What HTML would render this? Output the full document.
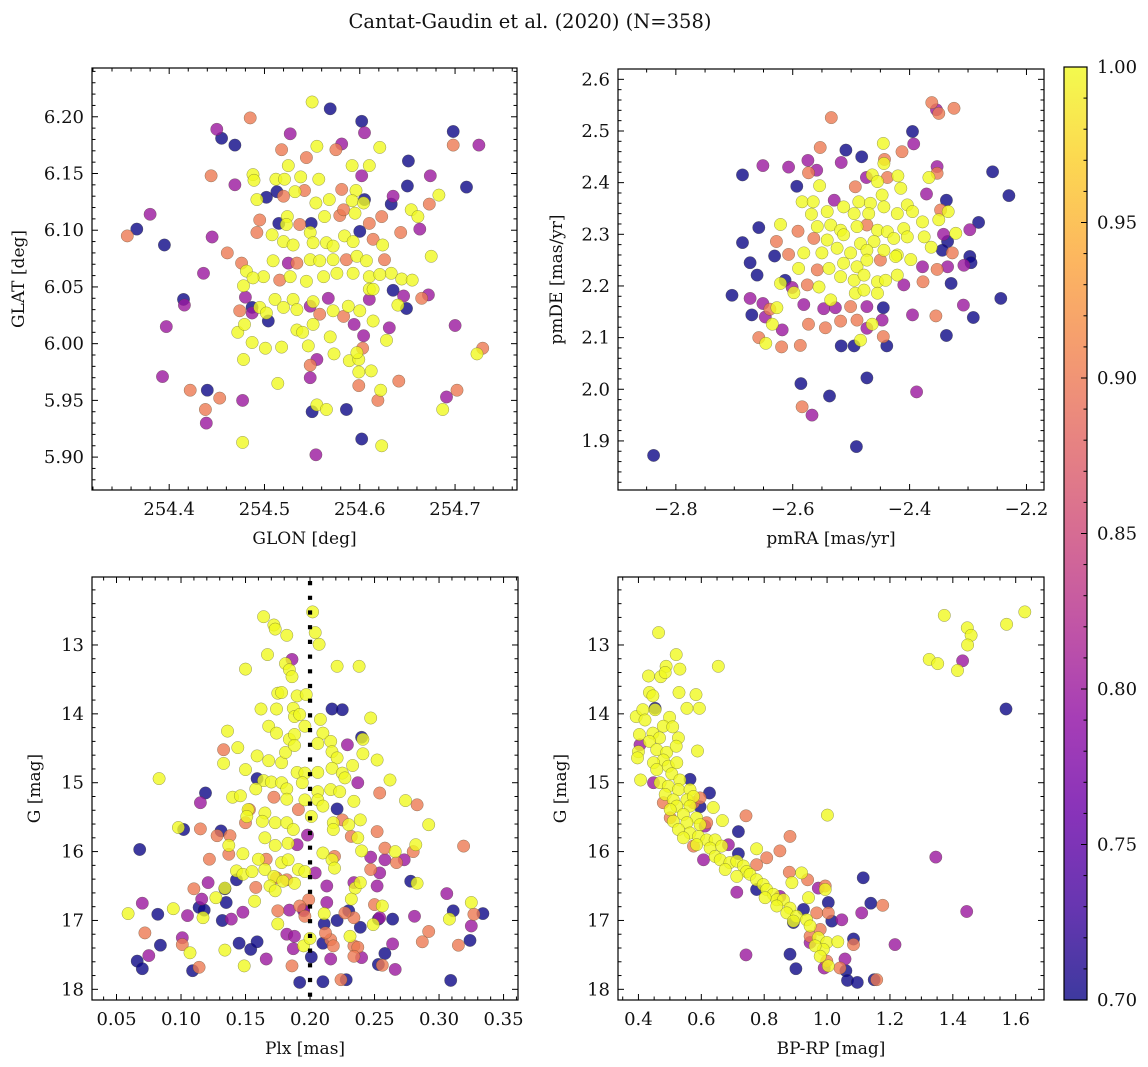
<!DOCTYPE html>
<html><head><meta charset="utf-8">
<style>
html,body{margin:0;padding:0;background:#fff;}
svg{display:block;font-family:"DejaVu Serif","Liberation Serif",serif;}
</style></head>
<body>
<svg id="fig" width="1148" height="1067" viewBox="0 0 1148 1067" xmlns="http://www.w3.org/2000/svg">
<rect width="1148" height="1067" fill="#fff"/>
<text x="530" y="28" font-size="19.5" text-anchor="middle" fill="#111">Cantat-Gaudin et al. (2020) (N=358)</text>
</svg>
<script>
// ---- data: membership probability classes ----
const classProb = [0.70, 0.80, 0.90, 1.00];

// Panel 1: GLON / GLAT [deg], grouped by probability class
const p1Blue = [[254.569,6.207],[254.602,6.196],[254.698,6.187],[254.455,6.181],[254.469,6.175],[254.651,6.161],[254.650,6.139],[254.712,6.138],[254.513,6.134],[254.502,6.129],[254.605,6.127],[254.633,6.123],[254.366,6.101],[254.395,6.087],[254.515,6.106],[254.549,6.106],[254.600,6.099],[254.635,6.047],[254.649,6.031],[254.415,6.039],[254.487,6.032],[254.504,6.020],[254.440,5.959],[254.550,5.940],[254.586,5.942],[254.602,5.916]];
const p1Purple = [[254.450,6.189],[254.527,6.185],[254.605,6.186],[254.581,6.176],[254.725,6.175],[254.469,6.140],[254.602,6.148],[254.674,6.148],[254.635,6.130],[254.380,6.114],[254.445,6.094],[254.436,6.062],[254.663,6.101],[254.525,6.071],[254.646,6.042],[254.672,6.043],[254.480,6.041],[254.416,6.034],[254.487,6.027],[254.548,6.033],[254.567,6.040],[254.610,6.039],[254.397,6.015],[254.594,6.017],[254.604,6.007],[254.631,6.014],[254.700,6.016],[254.555,5.986],[254.548,5.970],[254.393,5.971],[254.477,5.950],[254.439,5.930],[254.691,5.953],[254.554,5.902]];
const p1Salmon = [[254.485,6.199],[254.698,6.175],[254.518,6.171],[254.575,6.171],[254.544,6.164],[254.444,6.148],[254.520,6.130],[254.542,6.135],[254.581,6.136],[254.673,6.123],[254.356,6.095],[254.461,6.080],[254.495,6.109],[254.537,6.105],[254.579,6.113],[254.583,6.118],[254.610,6.106],[254.623,6.112],[254.643,6.098],[254.492,6.098],[254.614,6.092],[254.476,6.071],[254.534,6.071],[254.586,6.074],[254.626,6.074],[254.516,6.056],[254.665,6.040],[254.474,6.029],[254.558,6.026],[254.583,6.024],[254.603,5.996],[254.548,5.981],[254.729,5.996],[254.599,5.963],[254.641,5.967],[254.422,5.959],[254.453,5.952],[254.438,5.942],[254.619,5.950],[254.702,5.959]];
const p1Yellow = [[254.550,6.213],[254.555,6.174],[254.621,6.173],[254.525,6.157],[254.592,6.157],[254.610,6.157],[254.488,6.149],[254.489,6.144],[254.512,6.145],[254.521,6.145],[254.538,6.147],[254.557,6.145],[254.492,6.127],[254.532,6.134],[254.596,6.135],[254.568,6.127],[254.554,6.124],[254.592,6.126],[254.604,6.124],[254.683,6.131],[254.654,6.118],[254.661,6.112],[254.524,6.112],[254.523,6.105],[254.563,6.112],[254.595,6.115],[254.508,6.096],[254.520,6.090],[254.530,6.087],[254.548,6.098],[254.551,6.089],[254.565,6.089],[254.572,6.086],[254.584,6.095],[254.593,6.090],[254.624,6.087],[254.675,6.077],[254.481,6.064],[254.499,6.059],[254.509,6.073],[254.548,6.074],[254.558,6.073],[254.572,6.074],[254.597,6.077],[254.607,6.073],[254.633,6.062],[254.644,6.057],[254.655,6.056],[254.478,6.051],[254.488,6.058],[254.527,6.059],[254.544,6.055],[254.562,6.059],[254.576,6.062],[254.593,6.062],[254.610,6.059],[254.621,6.061],[254.610,6.048],[254.495,6.032],[254.502,6.027],[254.511,6.039],[254.520,6.032],[254.530,6.039],[254.534,6.030],[254.551,6.037],[254.572,6.029],[254.588,6.033],[254.600,6.029],[254.614,6.048],[254.640,6.034],[254.472,6.010],[254.479,6.017],[254.487,6.001],[254.501,5.996],[254.518,5.997],[254.534,6.012],[254.540,6.010],[254.551,6.017],[254.569,6.006],[254.614,6.020],[254.628,6.003],[254.546,5.998],[254.478,5.986],[254.573,5.991],[254.589,5.985],[254.599,5.986],[254.597,5.992],[254.599,5.975],[254.612,5.976],[254.723,5.991],[254.514,5.965],[254.622,5.959],[254.555,5.946],[254.565,5.942],[254.687,5.942],[254.477,5.913],[254.623,5.910]];

// Panel 2: pmRA / pmDE [mas/yr]
const p2Blue = [[-2.838,1.872],[-2.491,1.889],[-2.586,2.011],[-2.537,1.987],[-2.473,2.022],[-2.395,2.499],[-2.509,2.463],[-2.482,2.450],[-2.686,2.415],[-2.258,2.421],[-2.230,2.375],[-2.593,2.393],[-2.337,2.366],[-2.282,2.323],[-2.658,2.313],[-2.686,2.284],[-2.335,2.286],[-2.344,2.269],[-2.631,2.258],[-2.297,2.257],[-2.295,2.245],[-2.673,2.245],[-2.661,2.221],[-2.613,2.211],[-2.329,2.205],[-2.704,2.182],[-2.445,2.158],[-2.244,2.176],[-2.670,2.144],[-2.291,2.139],[-2.517,2.084],[-2.495,2.084],[-2.439,2.084],[-2.337,2.104]];
const p2Purple = [[-2.388,1.995],[-2.567,1.950],[-2.354,2.541],[-2.393,2.475],[-2.574,2.443],[-2.517,2.439],[-2.607,2.430],[-2.651,2.433],[-2.559,2.424],[-2.353,2.431],[-2.474,2.410],[-2.371,2.378],[-2.529,2.366],[-2.297,2.309],[-2.342,2.300],[-2.378,2.237],[-2.335,2.237],[-2.307,2.240],[-2.601,2.197],[-2.410,2.202],[-2.673,2.176],[-2.651,2.166],[-2.581,2.164],[-2.547,2.156],[-2.527,2.158],[-2.473,2.160],[-2.308,2.163],[-2.647,2.140],[-2.473,2.118],[-2.447,2.134],[-2.395,2.144],[-2.618,2.115]];
const p2Salmon = [[-2.584,1.966],[-2.362,2.555],[-2.350,2.534],[-2.324,2.544],[-2.534,2.526],[-2.553,2.468],[-2.413,2.460],[-2.573,2.419],[-2.353,2.418],[-2.443,2.445],[-2.438,2.410],[-2.493,2.392],[-2.347,2.347],[-2.591,2.306],[-2.473,2.318],[-2.628,2.286],[-2.564,2.292],[-2.607,2.261],[-2.327,2.264],[-2.558,2.231],[-2.450,2.250],[-2.353,2.232],[-2.575,2.202],[-2.377,2.208],[-2.639,2.155],[-2.501,2.160],[-2.573,2.126],[-2.544,2.119],[-2.518,2.132],[-2.490,2.134],[-2.355,2.142],[-2.658,2.100],[-2.619,2.082],[-2.587,2.085],[-2.445,2.102]];
const p2Yellow = [[-2.445,2.476],[-2.367,2.410],[-2.444,2.437],[-2.464,2.415],[-2.420,2.413],[-2.554,2.394],[-2.455,2.402],[-2.415,2.389],[-2.584,2.363],[-2.565,2.363],[-2.513,2.353],[-2.487,2.363],[-2.467,2.360],[-2.447,2.376],[-2.444,2.353],[-2.421,2.340],[-2.404,2.357],[-2.395,2.344],[-2.334,2.344],[-2.568,2.339],[-2.541,2.344],[-2.495,2.340],[-2.470,2.340],[-2.378,2.324],[-2.350,2.328],[-2.621,2.319],[-2.558,2.315],[-2.535,2.318],[-2.518,2.308],[-2.490,2.315],[-2.455,2.308],[-2.438,2.305],[-2.410,2.311],[-2.321,2.302],[-2.541,2.289],[-2.513,2.299],[-2.484,2.282],[-2.461,2.286],[-2.427,2.292],[-2.404,2.295],[-2.375,2.295],[-2.363,2.275],[-2.581,2.264],[-2.550,2.264],[-2.524,2.273],[-2.501,2.264],[-2.473,2.269],[-2.444,2.269],[-2.421,2.260],[-2.590,2.234],[-2.538,2.234],[-2.513,2.244],[-2.490,2.237],[-2.473,2.250],[-2.424,2.257],[-2.398,2.251],[-2.621,2.205],[-2.555,2.198],[-2.518,2.218],[-2.495,2.211],[-2.478,2.221],[-2.455,2.208],[-2.441,2.211],[-2.421,2.221],[-2.627,2.158],[-2.598,2.187],[-2.535,2.173],[-2.493,2.186],[-2.478,2.192],[-2.455,2.186],[-2.635,2.126],[-2.464,2.126],[-2.646,2.089],[-2.484,2.095]];

// Panel 3: Plx [mas] / G [mag]
const p3Blue = [[0.217,13.93],[0.225,13.94],[0.240,14.34],[0.159,14.94],[0.119,15.15],[0.221,15.38],[0.131,15.70],[0.102,15.68],[0.068,15.97],[0.278,16.43],[0.134,16.54],[0.143,16.41],[0.135,16.74],[0.114,16.81],[0.118,16.85],[0.082,16.91],[0.132,17.00],[0.195,16.84],[0.211,17.05],[0.221,17.00],[0.230,16.86],[0.239,17.10],[0.264,16.98],[0.311,16.86],[0.334,16.90],[0.324,17.29],[0.145,17.33],[0.154,17.42],[0.159,17.31],[0.084,17.36],[0.066,17.59],[0.070,17.70],[0.109,17.73],[0.201,17.53],[0.210,17.33],[0.258,17.48],[0.253,17.64],[0.192,17.90],[0.210,17.89],[0.228,17.86],[0.309,17.87],[0.253,16.98]];
const p3Purple = [[0.186,13.21],[0.229,14.45],[0.237,15.00],[0.115,15.29],[0.198,15.76],[0.190,15.90],[0.247,16.08],[0.258,16.12],[0.254,16.31],[0.273,16.12],[0.121,16.45],[0.213,16.50],[0.234,16.45],[0.252,16.50],[0.306,16.61],[0.070,16.75],[0.116,16.69],[0.105,16.93],[0.139,16.98],[0.148,16.88],[0.184,16.85],[0.195,16.86],[0.254,16.96],[0.281,16.94],[0.325,17.08],[0.182,17.20],[0.188,17.23],[0.101,17.25],[0.075,17.51],[0.166,17.56],[0.187,17.41],[0.216,17.56],[0.240,17.54],[0.264,17.34],[0.266,17.71],[0.204,16.31],[0.213,16.74]];
const p3Salmon = [[0.133,14.52],[0.254,15.15],[0.283,15.32],[0.172,15.21],[0.153,15.39],[0.150,15.58],[0.115,15.67],[0.128,15.77],[0.138,15.77],[0.137,16.04],[0.122,16.11],[0.166,16.11],[0.191,15.39],[0.225,15.54],[0.232,15.78],[0.252,15.71],[0.258,15.95],[0.280,16.00],[0.267,16.16],[0.247,16.26],[0.219,16.07],[0.110,16.54],[0.158,16.52],[0.174,16.38],[0.182,16.41],[0.199,16.70],[0.192,16.79],[0.175,16.86],[0.196,16.94],[0.250,16.77],[0.319,15.92],[0.327,16.91],[0.072,17.18],[0.101,17.35],[0.114,17.68],[0.186,17.66],[0.216,17.28],[0.212,17.18],[0.218,17.37],[0.234,17.37],[0.237,17.39],[0.292,17.16],[0.287,17.31],[0.315,17.36],[0.256,17.65],[0.224,17.86],[0.234,17.52],[0.234,16.96],[0.227,16.89]];
const p3Yellow = [[0.164,12.59],[0.172,12.71],[0.173,12.77],[0.182,12.86],[0.202,12.52],[0.204,12.82],[0.207,12.99],[0.167,13.14],[0.150,13.35],[0.181,13.27],[0.184,13.36],[0.186,13.46],[0.221,13.31],[0.238,13.31],[0.175,13.70],[0.178,13.69],[0.190,13.74],[0.197,13.72],[0.162,13.93],[0.174,13.93],[0.187,13.92],[0.188,14.04],[0.192,14.01],[0.208,14.08],[0.247,14.06],[0.136,14.25],[0.168,14.18],[0.174,14.28],[0.184,14.37],[0.188,14.30],[0.196,14.18],[0.210,14.28],[0.216,14.40],[0.241,14.37],[0.144,14.49],[0.159,14.61],[0.168,14.68],[0.178,14.71],[0.181,14.56],[0.188,14.46],[0.206,14.43],[0.217,14.55],[0.221,14.64],[0.241,14.58],[0.252,14.67],[0.133,14.72],[0.150,14.81],[0.190,14.85],[0.196,14.86],[0.206,14.85],[0.217,14.79],[0.225,14.86],[0.233,14.75],[0.227,14.93],[0.083,14.94],[0.164,14.97],[0.170,14.99],[0.178,15.00],[0.182,15.09],[0.194,15.00],[0.206,15.13],[0.216,15.10],[0.223,15.13],[0.262,14.96],[0.140,15.21],[0.146,15.19],[0.158,15.09],[0.182,15.24],[0.196,15.25],[0.206,15.25],[0.210,15.34],[0.234,15.27],[0.274,15.26],[0.152,15.39],[0.151,15.49],[0.165,15.44],[0.163,15.56],[0.173,15.58],[0.182,15.58],[0.187,15.68],[0.201,15.49],[0.218,15.58],[0.218,15.68],[0.230,15.61],[0.239,15.54],[0.292,15.61],[0.137,15.91],[0.148,16.03],[0.165,15.80],[0.173,15.91],[0.183,15.88],[0.210,16.02],[0.217,16.12],[0.219,16.24],[0.237,15.80],[0.240,15.99],[0.266,16.00],[0.282,15.90],[0.098,15.65],[0.160,16.11],[0.178,16.16],[0.183,16.12],[0.191,16.26],[0.196,16.29],[0.143,16.28],[0.148,16.33],[0.155,16.29],[0.165,16.26],[0.172,16.36],[0.179,16.43],[0.169,16.50],[0.173,16.57],[0.134,16.53],[0.127,16.67],[0.157,16.72],[0.188,16.46],[0.235,16.53],[0.239,16.45],[0.283,16.46],[0.232,16.69],[0.059,16.90],[0.094,16.83],[0.117,16.96],[0.175,17.05],[0.211,16.90],[0.249,17.06],[0.256,16.79],[0.308,16.98],[0.325,16.74],[0.231,17.23],[0.195,17.37],[0.200,17.26],[0.107,17.47],[0.134,17.43],[0.149,17.66]];
const p3Threshold = [0.20]; // vertical dotted reference line (Plx)

// Panel 4: BP-RP [mag] / G [mag]
const p4Blue = [[0.453,13.92],[0.564,14.95],[0.626,15.15],[0.596,15.35],[0.718,15.71],[0.718,16.03],[0.776,16.55],[0.925,16.84],[1.004,16.74],[1.115,16.38],[1.139,16.75],[1.015,17.01],[0.893,17.03],[1.084,17.27],[0.882,17.49],[0.901,17.70],[1.060,17.73],[1.065,17.87],[1.096,17.90],[1.150,17.86],[1.569,13.93]];
const p4Purple = [[0.405,14.45],[0.448,15.00],[0.612,15.63],[0.607,16.12],[0.686,15.90],[0.713,16.59],[0.972,16.53],[1.110,16.89],[1.047,16.99],[1.057,17.56],[0.991,17.69],[1.216,17.35],[0.742,17.50],[1.346,16.08],[1.444,16.87],[1.431,13.23],[0.946,17.32],[0.850,16.65]];
const p4Salmon = [[0.479,15.29],[0.501,15.51],[0.575,15.29],[0.596,15.22],[0.617,15.58],[0.575,15.92],[0.808,16.09],[0.850,15.99],[0.776,16.19],[0.882,15.78],[0.742,15.48],[0.880,16.30],[0.938,16.41],[0.994,16.50],[0.967,16.89],[1.004,16.89],[1.177,16.78],[1.084,17.35],[1.041,17.69],[1.158,17.86],[0.946,17.23],[0.999,17.59],[0.978,17.13]];
const p4Yellow = [[0.464,12.82],[0.520,13.14],[0.488,13.31],[0.532,13.35],[0.471,13.46],[0.432,13.45],[0.485,13.40],[0.654,13.31],[0.435,13.69],[0.446,13.74],[0.529,13.69],[0.583,13.72],[0.554,13.92],[0.594,13.92],[0.393,14.04],[0.414,13.94],[0.453,13.94],[0.421,14.09],[0.499,14.05],[0.479,14.18],[0.509,14.19],[0.446,14.28],[0.403,14.30],[0.527,14.35],[0.467,14.35],[0.435,14.40],[0.458,14.52],[0.400,14.55],[0.397,14.64],[0.490,14.56],[0.520,14.47],[0.588,14.54],[0.479,14.67],[0.448,14.71],[0.495,14.76],[0.522,14.71],[0.458,14.81],[0.506,14.87],[0.532,14.96],[0.407,14.96],[0.469,15.00],[0.495,15.05],[0.527,15.10],[0.564,15.10],[0.485,15.17],[0.511,15.25],[0.554,15.25],[0.575,15.20],[0.522,15.34],[0.564,15.34],[0.638,15.36],[0.501,15.39],[0.543,15.46],[0.585,15.51],[0.667,15.55],[0.511,15.56],[0.554,15.58],[0.596,15.61],[0.527,15.68],[0.564,15.73],[0.591,15.78],[0.543,15.80],[0.617,15.83],[0.644,15.83],[0.585,15.90],[0.628,15.95],[0.665,15.92],[0.644,16.07],[0.660,16.12],[0.776,15.96],[0.691,16.16],[0.676,16.26],[0.713,16.14],[0.734,16.21],[0.744,16.29],[0.713,16.36],[0.755,16.33],[0.776,16.41],[0.797,16.48],[0.808,16.55],[0.829,16.62],[0.840,16.70],[0.861,16.70],[0.803,16.67],[0.840,16.79],[0.882,16.82],[0.872,16.89],[0.903,16.94],[0.893,17.01],[0.935,16.99],[0.946,17.08],[0.972,17.25],[0.999,17.32],[0.988,17.42],[0.962,17.37],[1.034,17.31],[1.004,17.66],[0.978,17.52],[0.919,16.31],[0.888,16.45],[0.994,16.55],[0.941,16.67],[1.001,15.47],[1.373,12.57],[1.446,12.75],[1.458,12.86],[1.447,13.00],[1.325,13.21],[1.352,13.27],[1.415,13.37],[1.629,12.52],[1.571,12.70]];

// ---- tick labels ----
const p1XTicks = [254.4, 254.5, 254.6, 254.7];
const p1XLabels = ["254.4", "254.5", "254.6", "254.7"];
const p1YTicks = [5.90, 5.95, 6.00, 6.05, 6.10, 6.15, 6.20];
const p1YLabels = ["5.90", "5.95", "6.00", "6.05", "6.10", "6.15", "6.20"];
const p2XTicks = [-2.8, -2.6, -2.4, -2.2];
const p2XLabels = ["\u22122.8", "\u22122.6", "\u22122.4", "\u22122.2"];
const p2YTicks = [1.9, 2.0, 2.1, 2.2, 2.3, 2.4, 2.5, 2.6];
const p2YLabels = ["1.9", "2.0", "2.1", "2.2", "2.3", "2.4", "2.5", "2.6"];
const p3XTicks = [0.05, 0.10, 0.15, 0.20, 0.25, 0.30, 0.35];
const p3XLabels = ["0.05", "0.10", "0.15", "0.20", "0.25", "0.30", "0.35"];
const gTicks = [13, 14, 15, 16, 17, 18];
const gLabels = ["13", "14", "15", "16", "17", "18"];
const p4XTicks = [0.4, 0.6, 0.8, 1.0, 1.2, 1.4, 1.6];
const p4XLabels = ["0.4", "0.6", "0.8", "1.0", "1.2", "1.4", "1.6"];
const cbTicks = [0.70, 0.75, 0.80, 0.85, 0.90, 0.95, 1.00];
const cbLabels = ["0.70", "0.75", "0.80", "0.85", "0.90", "0.95", "1.00"];

// ---- rendering ----
const NS = "http://www.w3.org/2000/svg";
const svg = document.getElementById("fig");
function mk(tag, attrs, parent) {
  const e = document.createElementNS(NS, tag);
  for (const k in attrs) e.setAttribute(k, attrs[k]);
  (parent || svg).appendChild(e);
  return e;
}
const plasmaStops = ["#0d0887","#41049d","#6a00a8","#8f0da4","#b12a90","#cc4778","#e16462","#f2844b","#fca636","#fcce25","#f0f921"];
function hex2rgb(h){return [parseInt(h.slice(1,3),16),parseInt(h.slice(3,5),16),parseInt(h.slice(5,7),16)];}
function plasma(t){
  t = Math.max(0, Math.min(1, t));
  const f = t*10, i = Math.min(9, Math.floor(f)), r = f - i;
  const a = hex2rgb(plasmaStops[i]), b = hex2rgb(plasmaStops[i+1]);
  return "rgb(" + a.map((v,k)=>Math.round(v+(b[k]-v)*r)).join(",") + ")";
}
function probColor(p){ return plasma((p - 0.70) / 0.30); }

function makeScale(d0, d1, r0, r1){ return v => r0 + (v - d0) / (d1 - d0) * (r1 - r0); }

function panel(cfg){
  const g = mk("g", {});
  
  
  const sx = makeScale(cfg.xd[0], cfg.xd[1], cfg.L, cfg.R);
  const sy = makeScale(cfg.yd[0], cfg.yd[1], cfg.B, cfg.T);
  // points, low prob first
  const clip = "clip-" + cfg.name;
  const cp = mk("clipPath", {id: clip}, g);
  mk("rect", {x: cfg.L, y: cfg.T, width: cfg.R - cfg.L, height: cfg.B - cfg.T}, cp);
  const pg = mk("g", {"clip-path": "url(#" + clip + ")"}, g);
  
  
  cfg.groups.forEach((grp, gi) => {
    const col = probColor(classProb[gi]);
    grp.forEach(pt => {
      const c = mk("circle", {cx: sx(pt[0]).toFixed(1), cy: sy(pt[1]).toFixed(1), r: 6.2,
        fill: col, "fill-opacity": 0.8, stroke: "rgba(70,70,40,0.55)", "stroke-width": 0.5}, pg);
      
      
    });
  });
  if (cfg.vline) {
    cfg.vline.forEach(v => {
      const ln = mk("line", {x1: sx(v), x2: sx(v), y1: cfg.T + 4, y2: cfg.B, stroke: "#000", "stroke-width": 4.2, "stroke-dasharray": "4.2 10.5"}, g);
      
      
    });
  }
  // frame
  const fr = mk("rect", {x: cfg.L, y: cfg.T, width: cfg.R - cfg.L, height: cfg.B - cfg.T, fill: "none", stroke: "#000", "stroke-width": 1.2}, g);
  
  
  // ticks
  const tg = mk("g", {stroke: "#000", "stroke-width": 1}, g);
  const eps = 1e-9;
  const xmin = Math.min(cfg.xd[0], cfg.xd[1]), xmax = Math.max(cfg.xd[0], cfg.xd[1]);
  for (let k = Math.ceil(xmin / cfg.xminor - eps); k * cfg.xminor <= xmax + eps; k++) {
    const v = k * cfg.xminor, x = sx(v);
    const major = Math.abs(v / cfg.xmajor - Math.round(v / cfg.xmajor)) < 1e-6;
    const len = major ? 6 : 3.5;
    mk("line", {x1: x, x2: x, y1: cfg.B, y2: cfg.B - len}, tg);
    mk("line", {x1: x, x2: x, y1: cfg.T, y2: cfg.T + len}, tg);
  }
  const ymin = Math.min(cfg.yd[0], cfg.yd[1]), ymax = Math.max(cfg.yd[0], cfg.yd[1]);
  for (let k = Math.ceil(ymin / cfg.yminor - eps); k * cfg.yminor <= ymax + eps; k++) {
    const v = k * cfg.yminor, y = sy(v);
    const major = Math.abs(v / cfg.ymajor - Math.round(v / cfg.ymajor)) < 1e-6;
    const len = major ? 6 : 3.5;
    mk("line", {x1: cfg.L, x2: cfg.L + len, y1: y, y2: y}, tg);
    mk("line", {x1: cfg.R, x2: cfg.R - len, y1: y, y2: y}, tg);
  }
  // tick labels
  cfg.xt.forEach((v, i) => {
    const t = mk("text", {x: sx(v), y: cfg.B + 25, "font-size": 18, "text-anchor": "middle", fill: "#111"}, g);
    t.textContent = cfg.xl[i];
    
    
  });
  cfg.yt.forEach((v, i) => {
    const t = mk("text", {x: cfg.L - 8, y: sy(v) + 6, "font-size": 18, "text-anchor": "end", fill: "#111"}, g);
    t.textContent = cfg.yl[i];
    
    
  });
  const xt = mk("text", {x: (cfg.L + cfg.R) / 2, y: cfg.B + 54, "font-size": 17, "text-anchor": "middle", fill: "#111"}, g);
  xt.textContent = cfg.xtitle;
  
  
  const cy = (cfg.T + cfg.B) / 2;
  const yt = mk("text", {x: cfg.ytx, y: cy, "font-size": 17, "text-anchor": "middle", fill: "#111", transform: "rotate(-90 " + cfg.ytx + " " + cy + ")"}, g);
  yt.textContent = cfg.ytitle;
  
  
}

panel({name: "panel-glon-glat", L: 92, R: 517, T: 68, B: 490, xd: [254.319, 254.765], yd: [5.871, 6.243],
  xmajor: 0.1, xminor: 0.02, ymajor: 0.05, yminor: 0.01, xt: p1XTicks, xl: p1XLabels, yt: p1YTicks, yl: p1YLabels,
  xtitle: "GLON [deg]", ytitle: "GLAT [deg]", ytx: 24, groups: [p1Blue, p1Purple, p1Salmon, p1Yellow]});
panel({name: "panel-proper-motion", L: 618, R: 1044, T: 69, B: 490, xd: [-2.899, -2.170], yd: [1.805, 2.620],
  xmajor: 0.2, xminor: 0.05, ymajor: 0.1, yminor: 0.02, xt: p2XTicks, xl: p2XLabels, yt: p2YTicks, yl: p2YLabels,
  xtitle: "pmRA [mas/yr]", ytitle: "pmDE [mas/yr]", ytx: 562, groups: [p2Blue, p2Purple, p2Salmon, p2Yellow]});
panel({name: "panel-plx-g", L: 92, R: 518, T: 577, B: 1000, xd: [0.031, 0.3612], yd: [18.155, 12.013],
  xmajor: 0.05, xminor: 0.01, ymajor: 1, yminor: 0.2, xt: p3XTicks, xl: p3XLabels, yt: gTicks, yl: gLabels,
  xtitle: "Plx [mas]", ytitle: "G [mag]", ytx: 40, groups: [p3Blue, p3Purple, p3Salmon, p3Yellow], vline: p3Threshold});
panel({name: "panel-cmd", L: 618, R: 1044, T: 577, B: 1000, xd: [0.335, 1.690], yd: [18.155, 12.013],
  xmajor: 0.2, xminor: 0.05, ymajor: 1, yminor: 0.2, xt: p4XTicks, xl: p4XLabels, yt: gTicks, yl: gLabels,
  xtitle: "BP-RP [mag]", ytitle: "G [mag]", ytx: 566, groups: [p4Blue, p4Purple, p4Salmon, p4Yellow]});

// ---- colorbar ----
(function(){
  const L = 1064, R = 1087, T = 67, B = 1000;
  const g = mk("g", {});
  
  
  const defs = mk("defs", {}, g);
  const lg = mk("linearGradient", {id: "cbgrad", x1: 0, y1: 1, x2: 0, y2: 0}, defs);
  for (let i = 0; i <= 20; i++) mk("stop", {offset: i / 20, "stop-color": plasma(i / 20), "stop-opacity": 0.8}, lg);
  mk("rect", {x: L, y: T, width: R - L, height: B - T, fill: "url(#cbgrad)", stroke: "#000", "stroke-width": 1.2}, g);
  const sy = makeScale(0.70, 1.00, B, T);
  for (let k = 70; k <= 100; k++) {
    const y = sy(k / 100), major = k % 5 === 0;
    mk("line", {x1: R, x2: R - (major ? 6 : 3.5), y1: y, y2: y, stroke: "#000", "stroke-width": 1}, g);
  }
  cbTicks.forEach((v, i) => {
    const t = mk("text", {x: R + 10, y: sy(v) + 6, "font-size": 18, fill: "#111"}, g);
    t.textContent = cbLabels[i];
    
    
  });
})();
</script>
</body></html>
